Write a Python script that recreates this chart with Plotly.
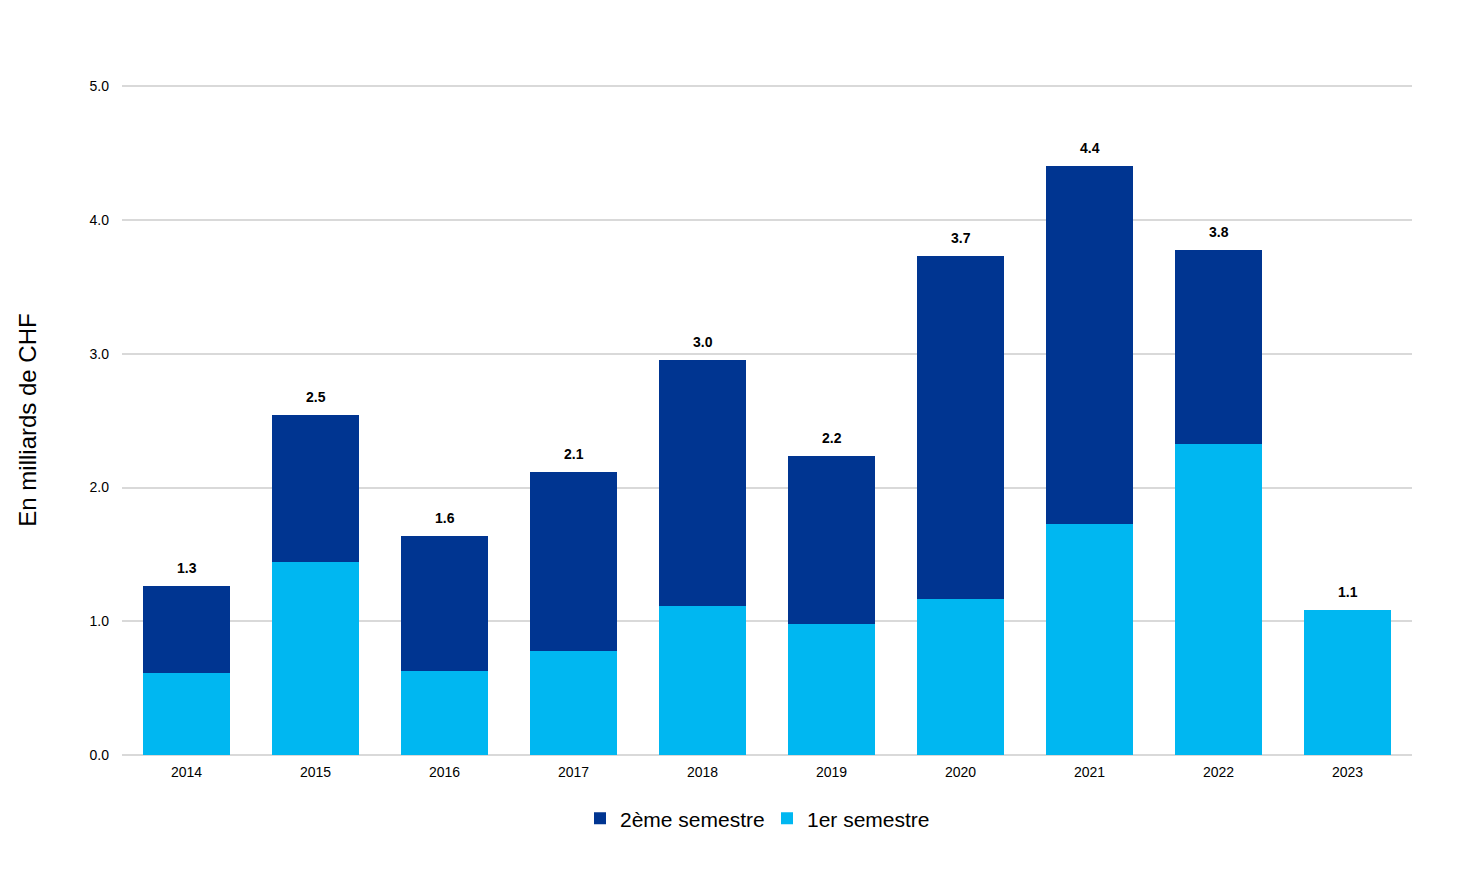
import plotly.graph_objects as go

years = ["2014", "2015", "2016", "2017", "2018", "2019", "2020", "2021", "2022", "2023"]
sem1 = [0.613, 1.442, 0.628, 0.777, 1.114, 0.979, 1.166, 1.726, 2.324, 1.084]
sem2 = [0.650, 1.099, 1.009, 1.338, 1.841, 1.256, 2.563, 2.676, 1.450, 0.0]
totals = [a + b for a, b in zip(sem1, sem2)]
total_labels = [f"{t:.1f}" for t in totals]

DARK = "#003591"
LIGHT = "#00B7F1"
FONT = "Liberation Sans, Arial, sans-serif"

fig = go.Figure()
fig.add_trace(go.Bar(x=years, y=sem1, name="1er semestre", marker_color=LIGHT,
                     marker_line_width=0))
fig.add_trace(go.Bar(x=years, y=sem2, name="2ème semestre", marker_color=DARK,
                     marker_line_width=0))

for i, (tot, lab) in enumerate(zip(totals, total_labels)):
    fig.add_annotation(x=i, y=tot, text=f"<b>{lab}</b>", showarrow=False,
                       yanchor="middle", yshift=18,
                       font=dict(family=FONT, size=14, color="#000000"))

fig.update_layout(
    width=1476, height=885,
    barmode="stack", bargap=0.333,
    plot_bgcolor="white", paper_bgcolor="white",
    font=dict(family=FONT, color="#000000"),
    margin=dict(l=114, r=72, t=77, b=138),
    legend=dict(orientation="h", x=0.5, xanchor="center", y=-0.0645, yanchor="top",
                traceorder="reversed", font=dict(size=21), itemwidth=30,
                entrywidth=142, entrywidthmode="pixels"),
    showlegend=True,
)
fig.update_xaxes(type="category", tickfont=dict(size=14), showline=False, showgrid=False,
                 ticks="", ticklabelstandoff=7)
fig.update_yaxes(range=[0, 5.01], tickvals=[0, 1, 2, 3, 4, 5], tickformat=".1f",
                 tickfont=dict(size=14),
                 showgrid=True, gridcolor="#d9d9d9", gridwidth=1.5,
                 zeroline=True, zerolinecolor="#d9d9d9", zerolinewidth=1.5,
                 ticks="", ticklabelstandoff=12,
                 title=dict(text="En milliards de CHF", font=dict(size=24), standoff=46))

fig.write_html("out.html")
